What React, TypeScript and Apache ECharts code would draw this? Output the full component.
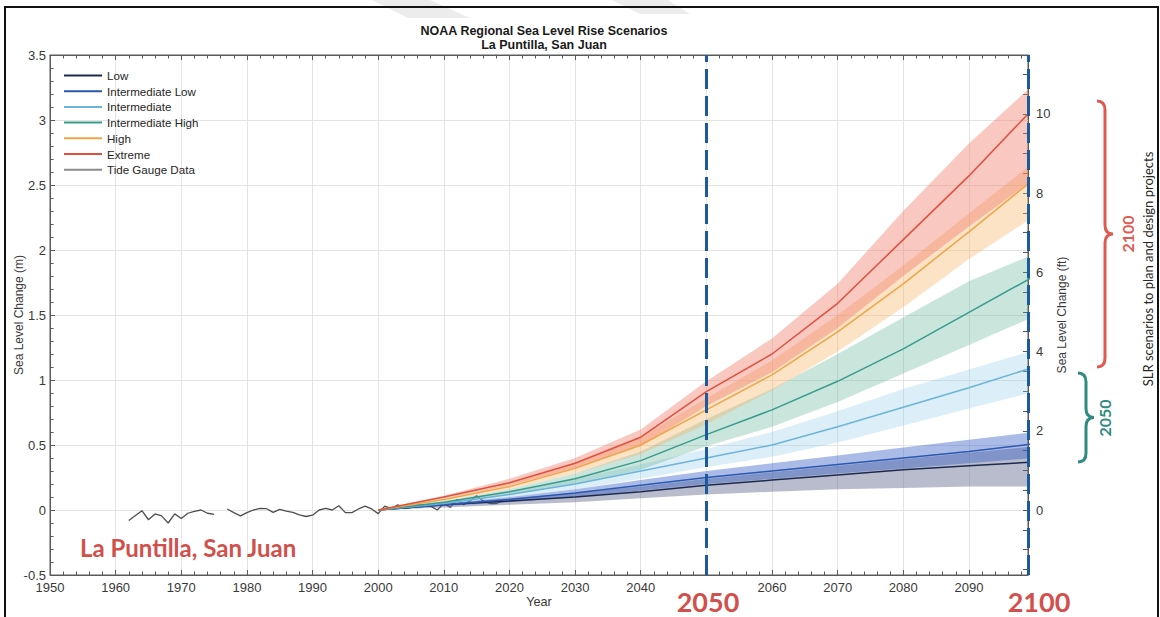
import React, { useEffect, useRef } from "react";
import * as echarts from "echarts";

// ---- axes -------------------------------------------------------------
const X_MIN = 1950;
const X_MAX = 2099;
const Y_MIN_M = -0.5;
const Y_MAX_M = 3.5;
const M_PER_FT = 0.3048;
const FT_LABELS = [0, 2, 4, 6, 8, 10];
const FT_MINOR_STEP = 0.5;

// ---- projection scenarios (metres, relative to 2000) -------------------
const PROJ_YEARS = [2000, 2010, 2020, 2030, 2040, 2050, 2060, 2070, 2080, 2090, 2100];

const LOW_MED = [0, 0.04, 0.07, 0.1, 0.14, 0.19, 0.23, 0.27, 0.31, 0.34, 0.37];
const LOW_LO = [0, 0.02, 0.04, 0.06, 0.09, 0.12, 0.14, 0.16, 0.17, 0.18, 0.18];
const LOW_HI = [0, 0.05, 0.09, 0.13, 0.18, 0.24, 0.29, 0.34, 0.39, 0.44, 0.49];

const INTLOW_MED = [0, 0.04, 0.08, 0.13, 0.19, 0.25, 0.3, 0.35, 0.4, 0.45, 0.51];
const INTLOW_LO = [0, 0.03, 0.06, 0.1, 0.15, 0.2, 0.24, 0.28, 0.32, 0.36, 0.4];
const INTLOW_HI = [0, 0.05, 0.1, 0.16, 0.23, 0.3, 0.36, 0.42, 0.48, 0.54, 0.6];

const INT_MED = [0, 0.05, 0.12, 0.2, 0.3, 0.4, 0.5, 0.64, 0.79, 0.94, 1.1];
const INT_LO = [0, 0.04, 0.1, 0.16, 0.24, 0.33, 0.41, 0.52, 0.65, 0.78, 0.91];
const INT_HI = [0, 0.06, 0.14, 0.24, 0.35, 0.47, 0.6, 0.76, 0.93, 1.08, 1.23];

const INTHIGH_MED = [0, 0.06, 0.14, 0.24, 0.38, 0.58, 0.77, 0.99, 1.24, 1.52, 1.8];
const INTHIGH_LO = [0, 0.05, 0.12, 0.2, 0.31, 0.49, 0.64, 0.83, 1.05, 1.27, 1.49];
const INTHIGH_HI = [0, 0.07, 0.16, 0.28, 0.45, 0.7, 0.93, 1.2, 1.48, 1.76, 1.97];

const HIGH_MED = [0, 0.08, 0.18, 0.32, 0.5, 0.77, 1.04, 1.37, 1.74, 2.14, 2.55];
const HIGH_LO = [0, 0.07, 0.16, 0.28, 0.43, 0.66, 0.92, 1.22, 1.56, 1.93, 2.26];
const HIGH_HI = [0, 0.09, 0.2, 0.36, 0.56, 0.86, 1.15, 1.5, 1.88, 2.28, 2.68];

const EXT_MED = [0, 0.1, 0.21, 0.36, 0.56, 0.91, 1.2, 1.59, 2.08, 2.57, 3.1];
const EXT_LO = [0, 0.09, 0.19, 0.32, 0.49, 0.8, 1.06, 1.4, 1.8, 2.18, 2.55];
const EXT_HI = [0, 0.11, 0.24, 0.4, 0.62, 0.99, 1.32, 1.74, 2.3, 2.82, 3.28];

// ---- tide gauge record (metres) -------------------------------------
const GAUGE_YEARS = [
  1962, 1964, 1965, 1966, 1967, 1968, 1969, 1970, 1971, 1972, 1973, 1974, 1975, 1976,
  1977, 1978, 1979, 1980, 1981, 1982, 1983, 1984, 1985, 1986, 1987, 1988, 1989, 1990,
  1991, 1992, 1993, 1994, 1995, 1996, 1997, 1998, 1999, 2000, 2001, 2002, 2003, 2004,
  2005, 2006, 2007, 2008, 2009, 2010, 2011, 2012, 2013, 2014, 2015, 2016, 2017, 2018, 2019,
];
const GAUGE_VALUES = [
  -0.08, -0.005, -0.075, -0.03, -0.045, -0.1, -0.03, -0.065, -0.025, -0.01, 0.0, -0.025, -0.033, null,
  0.008, -0.02, -0.045, -0.02, 0.0, 0.013, 0.01, -0.018, 0.005, -0.008, -0.018, -0.038, -0.05, -0.04,
  0.0, 0.013, 0.0, 0.033, -0.02, -0.02, 0.008, 0.03, 0.008, -0.028, 0.03, 0.01, 0.04, 0.01,
  0.02, 0.04, 0.035, 0.03, 0.0, 0.05, 0.02, 0.08, 0.04, 0.07, 0.11, 0.07, 0.05, 0.05, 0.07,
];

const PLANNING_YEARS = [2050, 2100];

const SCENARIOS = [
  { name: "Low", med: LOW_MED, lo: LOW_LO, hi: LOW_HI, line: "#1d2a4e", band: "rgba(88,96,134,0.42)" },
  { name: "Intermediate Low", med: INTLOW_MED, lo: INTLOW_LO, hi: INTLOW_HI, line: "#2c58ad", band: "rgba(52,92,200,0.42)" },
  { name: "Intermediate", med: INT_MED, lo: INT_LO, hi: INT_HI, line: "#6cb4da", band: "rgba(140,198,228,0.3)" },
  { name: "Intermediate High", med: INTHIGH_MED, lo: INTHIGH_LO, hi: INTHIGH_HI, line: "#389c8b", band: "rgba(78,168,140,0.3)" },
  { name: "High", med: HIGH_MED, lo: HIGH_LO, hi: HIGH_HI, line: "#f0a548", band: "rgba(246,178,98,0.36)" },
  { name: "Extreme", med: EXT_MED, lo: EXT_LO, hi: EXT_HI, line: "#e0503c", band: "rgba(240,118,98,0.4)" },
];

const SANS = "'Liberation Sans', Arial, sans-serif";
const CALLOUT = "Lato, 'Open Sans', sans-serif";
const RED = "#d2504b";
const TEAL = "#2f8a80";

// curly brace opening to the left, tip pointing right
function bracePath(x0: number, yTop: number, yBot: number, w: number): string {
  const xm = x0 + w / 2;
  const xt = x0 + w;
  const ym = (yTop + yBot) / 2;
  const r = 9;
  return [
    `M${x0} ${yTop}`,
    `Q${xm} ${yTop} ${xm} ${yTop + r}`,
    `L${xm} ${ym - r}`,
    `Q${xm} ${ym} ${xt} ${ym}`,
    `Q${xm} ${ym} ${xm} ${ym + r}`,
    `L${xm} ${yBot - r}`,
    `Q${xm} ${yBot} ${x0} ${yBot}`,
  ].join(" ");
}

echarts.graphic.registerShape("brace2100", echarts.graphic.extendPath(bracePath(1097, 101, 367, 16), {}) as any);
echarts.graphic.registerShape("brace2050", echarts.graphic.extendPath(bracePath(1078, 373, 462, 16), {}) as any);

function bandSeries(s: (typeof SCENARIOS)[number], z: number) {
  return {
    type: "custom",
    silent: true,
    z,
    xAxisIndex: 0,
    yAxisIndex: 0,
    data: PROJ_YEARS.map((yr, i) => [yr, s.lo[i], s.hi[i]]),
    encode: { x: 0, y: [1, 2] },
    renderItem: (params: any, api: any) => {
      if (params.dataIndex !== 0) return null;
      const upper = PROJ_YEARS.map((yr, i) => api.coord([yr, s.hi[i]]));
      const lower = PROJ_YEARS.map((yr, i) => api.coord([yr, s.lo[i]])).reverse();
      const cs = params.coordSys;
      return {
        type: "polygon",
        shape: { points: upper.concat(lower) },
        style: { fill: s.band },
        clipPath: { type: "rect", shape: { x: cs.x, y: cs.y, width: cs.width, height: cs.height } },
      };
    },
  };
}

function buildOption(): any {
  const ftMin = Y_MIN_M / M_PER_FT;
  const ftMax = Y_MAX_M / M_PER_FT;
  const ftTicks: number[] = [];
  for (let v = Math.ceil(ftMin / FT_MINOR_STEP) * FT_MINOR_STEP; v <= ftMax; v += FT_MINOR_STEP) ftTicks.push(v);

  const axisText = { color: "#3a3a3a", fontSize: 13, fontFamily: SANS };
  const axisLine = { show: true, onZero: false, lineStyle: { color: "#5a5a5a", width: 1 } };
  const tick = { inside: true, length: 5, lineStyle: { color: "#5a5a5a" } };
  const minor = { show: true, splitNumber: 5, length: 3.5, lineStyle: { color: "#5a5a5a" } };
  const grid = { color: "#e4e4e4", width: 1 };

  const series: any[] = [];

  series.push({
    name: "Tide Gauge Data",
    type: "line",
    z: 1,
    data: GAUGE_YEARS.map((yr, i) => [yr, GAUGE_VALUES[i]]),
    showSymbol: false,
    symbol: "none",
    connectNulls: false,
    itemStyle: { color: "#8a8a8a" },
    lineStyle: { color: "#4f4f4f", width: 1.3 },
  });

  SCENARIOS.forEach((s, i) => series.push(bandSeries(s, 2 + i * 0.01)));

  SCENARIOS.forEach((s) =>
    series.push({
      name: s.name,
      type: "line",
      z: 3,
      data: PROJ_YEARS.map((yr, i) => [yr, s.med[i]]),
      showSymbol: false,
      symbol: "none",
      itemStyle: { color: s.line },
      lineStyle: { color: s.line, width: 1.5 },
    })
  );

  series.push({
    name: "planning horizons",
    type: "line",
    z: 6,
    data: [],
    markLine: {
      silent: true,
      symbol: ["none", "none"],
      label: { show: false },
      lineStyle: { color: "#1c5a9c", width: 3, type: [20, 7] },
      data: PLANNING_YEARS.map((yr) => ({ xAxis: Math.min(yr, X_MAX) })),
    },
  });

  return {
    animation: false,
    backgroundColor: "#ffffff",
    title: {
      text: "NOAA Regional Sea Level Rise Scenarios\nLa Puntilla, San Juan",
      left: 539,
      top: 19,
      textAlign: "center",
      textStyle: { fontFamily: SANS, fontSize: 12.5, fontWeight: "bold", color: "#1a1a1a", lineHeight: 14 },
    },
    legend: {
      orient: "vertical",
      left: 64,
      top: 68.5,
      padding: 0,
      itemWidth: 38,
      itemHeight: 2,
      itemGap: 1.7,
      icon: "rect",
      selectedMode: false,
      textStyle: { fontFamily: SANS, fontSize: 11.6, color: "#262626", lineHeight: 14 },
      data: [...SCENARIOS.map((s) => s.name), "Tide Gauge Data"],
    },
    grid: { left: 50, right: 132, top: 55, bottom: 42, show: true, borderColor: "#5a5a5a", borderWidth: 1, containLabel: false, outerBoundsMode: "none" },
    xAxis: [
      {
        type: "value",
        min: X_MIN,
        max: X_MAX,
        interval: 10,
        name: "Year",
        nameLocation: "middle",
        nameGap: 20,
        nameMoveOverlap: false,
        nameTextStyle: { ...axisText, fontSize: 12.7 },
        axisLine,
        axisTick: tick,
        minorTick: minor,
        axisLabel: {
          ...axisText,
          margin: 6,
          lineHeight: 12,
          showMaxLabel: false,
          // the 2050 label sits under the planning-horizon callout
          formatter: (v: number) => (PLANNING_YEARS.includes(v) ? "" : String(v)),
        },
        splitLine: { show: true, lineStyle: grid },
      },
      {
        type: "value",
        position: "top",
        min: X_MIN,
        max: X_MAX,
        interval: 10,
        axisLine,
        axisTick: tick,
        minorTick: minor,
        axisLabel: { show: false },
        splitLine: { show: false },
      },
    ],
    yAxis: [
      {
        type: "value",
        min: Y_MIN_M,
        max: Y_MAX_M,
        interval: 0.5,
        name: "Sea Level Change (m)",
        nameLocation: "middle",
        nameGap: 25,
        nameMoveOverlap: false,
        nameTextStyle: { ...axisText, fontSize: 12 },
        axisLine,
        axisTick: tick,
        minorTick: minor,
        axisLabel: { ...axisText, margin: 4, lineHeight: 11 },
        splitLine: { show: true, lineStyle: grid },
      },
      {
        type: "value",
        position: "right",
        min: ftMin,
        max: ftMax,
        name: "Sea Level Change (ft)",
        nameLocation: "middle",
        nameGap: 28,
        nameMoveOverlap: false,
        nameTextStyle: { ...axisText, fontSize: 12 },
        axisLine,
        axisTick: { ...tick, customValues: ftTicks },
        axisLabel: { ...axisText, margin: 8, customValues: FT_LABELS, formatter: (v: number) => String(Math.round(v)) },
        splitLine: { show: false },
      },
    ],
    series,
    graphic: [
      {
        type: "polygon",
        silent: true,
        shape: { points: [[372, 0], [430, 0], [470, 18], [408, 18]] },
        style: { fill: "#ececec" },
        z: 90,
      },
      {
        type: "polygon",
        silent: true,
        shape: { points: [[612, 0], [668, 0], [690, 14], [640, 14]] },
        style: { fill: "#ececec" },
        z: 90,
      },
      {
        type: "rect",
        silent: true,
        shape: { x: 5, y: 7, width: 1153, height: 640 },
        style: { fill: "none", stroke: "#111111", lineWidth: 2 },
        z: 100,
      },
      {
        type: "text",
        x: 80,
        y: 547,
        style: { text: "La Puntilla, San Juan", fill: RED, fontFamily: CALLOUT, fontWeight: "bold", fontSize: 24, textVerticalAlign: "middle" },
        z: 100,
      },
      {
        type: "text",
        x: 708,
        y: 601,
        style: { text: "2050", fill: RED, fontFamily: CALLOUT, fontWeight: "bold", fontSize: 27, lineHeight: 27, textAlign: "center", textVerticalAlign: "middle" },
        z: 100,
      },
      {
        type: "text",
        x: 1039,
        y: 601,
        style: { text: "2100", fill: RED, fontFamily: CALLOUT, fontWeight: "bold", fontSize: 27, lineHeight: 27, textAlign: "center", textVerticalAlign: "middle" },
        z: 100,
      },
      { type: "brace2100", silent: true, z: 100, style: { fill: "none", stroke: "#e05a4f", lineWidth: 3 } },
      { type: "brace2050", silent: true, z: 100, style: { fill: "none", stroke: TEAL, lineWidth: 3 } },
      {
        type: "text",
        x: 1127,
        y: 234,
        rotation: Math.PI / 2,
        style: { text: "2100", fill: "#e05a4f", fontFamily: CALLOUT, fontWeight: "bold", fontSize: 16, textAlign: "center", textVerticalAlign: "middle" },
        z: 100,
      },
      {
        type: "text",
        x: 1104,
        y: 418,
        rotation: Math.PI / 2,
        style: { text: "2050", fill: TEAL, fontFamily: CALLOUT, fontWeight: "bold", fontSize: 16, textAlign: "center", textVerticalAlign: "middle" },
        z: 100,
      },
      {
        type: "text",
        x: 1148,
        y: 269,
        rotation: Math.PI / 2,
        style: { text: "SLR scenarios to plan and design projects", fill: "#262626", fontFamily: CALLOUT, fontSize: 13, textAlign: "center", textVerticalAlign: "middle" },
        z: 100,
      },
    ],
  };
}

export default function App() {
  const ref = useRef<HTMLDivElement>(null);
  useEffect(() => {
    if (!ref.current) return;
    const chart = echarts.init(ref.current, undefined, { renderer: "svg" });
    chart.setOption(buildOption());
    return () => chart.dispose();
  }, []);
  return (
    <div
      ref={ref}
      style={{ position: "absolute", left: 0, top: 0, width: 1160, height: 617, background: "#fff" }}
    />
  );
}
